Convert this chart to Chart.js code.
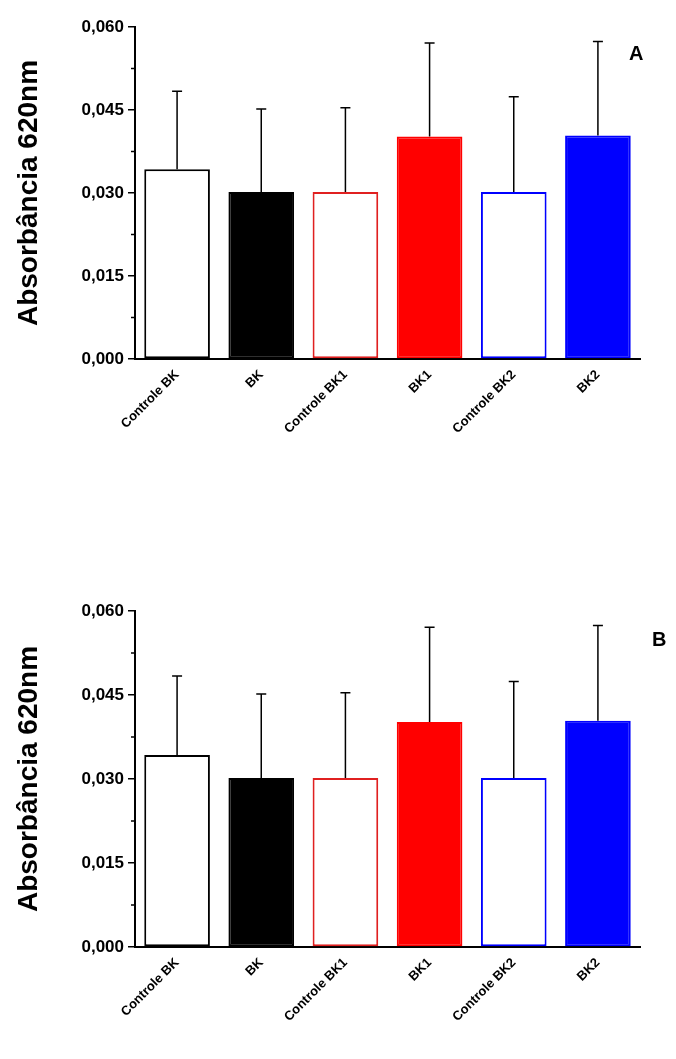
<!DOCTYPE html>
<html><head><meta charset="utf-8">
<script src="https://cdn.jsdelivr.net/npm/chart.js@4"></script>
<style>
body{margin:0;background:#fff;width:676px;height:1059px;position:relative;overflow:hidden}
canvas{position:absolute;left:0}
.lbl{position:absolute;font:bold 20px "Liberation Sans",Arial,sans-serif}
</style></head><body>
<canvas id="grafA" style="top:0" width="676" height="530"></canvas>
<canvas id="grafB" style="top:530px" width="676" height="529"></canvas>
<div class="lbl" style="left:629px;top:42px">A</div>
<div class="lbl" style="left:652px;top:628px">B</div>
<script>
const categorias = ["Controle BK","BK","Controle BK1","BK1","Controle BK2","BK2"]
const medias = [0.0343,0.0302,0.0302,0.0402,0.0302,0.0404]
const erros = [0.0484,0.0452,0.0454,0.0571,0.0474,0.0574]
const preenchimento = ["#ffffff","#000000","#ffffff","#ff0000","#ffffff","#0000ff"]
const contorno = ["#000000","#000000","#e02020","#ff0000","#0000ff","#0000ff"]
const marcasY = [0,0.015,0.03,0.045,0.06]

const pluginErro = {
  id:'erro',
  afterDatasetsDraw(chart){
    const ctx = chart.ctx, y = chart.scales.y
    const meta = chart.getDatasetMeta(0)
    ctx.save()
    ctx.strokeStyle = '#000'; ctx.lineWidth = 1.5
    meta.data.forEach((bar,i)=>{
      const yt = y.getPixelForValue(erros[i])
      ctx.beginPath()
      ctx.moveTo(bar.x, bar.y); ctx.lineTo(bar.x, yt)
      ctx.moveTo(bar.x-5, yt); ctx.lineTo(bar.x+5, yt)
      ctx.stroke()
    })
    // marcas menores
    const xl = chart.chartArea.left
    for(let k=0;k<4;k++){
      const p = y.getPixelForValue(marcasY[k]+0.0075)
      ctx.beginPath(); ctx.moveTo(xl, p); ctx.lineTo(xl-4, p); ctx.stroke()
    }
    ctx.restore()
  }
}

function gerandoGrafico(id, pad, alturaX){
  new Chart(document.getElementById(id).getContext("2d"), {
    type:'bar',
    data:{ labels:categorias, datasets:[{ data:medias, backgroundColor:preenchimento,
      borderColor:contorno, borderWidth:2, borderSkipped:false,
      barPercentage:0.78, categoryPercentage:1 }]},
    options:{
      responsive:false, animation:false,
      layout:{ padding:pad },
      plugins:{ legend:{display:false}, tooltip:{enabled:false} },
      scales:{
        x:{
          afterFit(s){ s.height = alturaX },
          grid:{display:false},
          border:{color:'#000', width:2},
          ticks:{ color:'#000', maxRotation:45, minRotation:45, padding:0,
            font:{family:'"Liberation Sans", Arial', weight:'bold', size:13} }
        },
        y:{
          min:0, max:0.06,
          afterFit(s){ s.width = 135 },
          afterBuildTicks(s){ s.ticks = marcasY.map(v=>({value:v})) },
          grid:{ drawOnChartArea:false, drawTicks:true, tickLength:7, color:'#000', lineWidth:1.5 },
          border:{ color:'#000', width:2 },
          ticks:{ color:'#000', padding:4,
            font:{family:'"Liberation Sans", Arial', weight:'bold', size:17} },
          title:{ display:true, text:'Absorbância 620nm', color:'#000', padding:{top:12,bottom:0},
            font:{family:'"Liberation Sans", Arial', weight:'bold', size:28} }
        }
      }
    },
    plugins:[pluginErro]
  })
}
Chart.defaults.scales.linear.ticks.callback = v=>v.toFixed(3).replace('.',',')

gerandoGrafico("grafA", {top:27, right:36, left:0, bottom:0}, 171)
gerandoGrafico("grafB", {top:81, right:36, left:0, bottom:0}, 112)
</script>
</body></html>
